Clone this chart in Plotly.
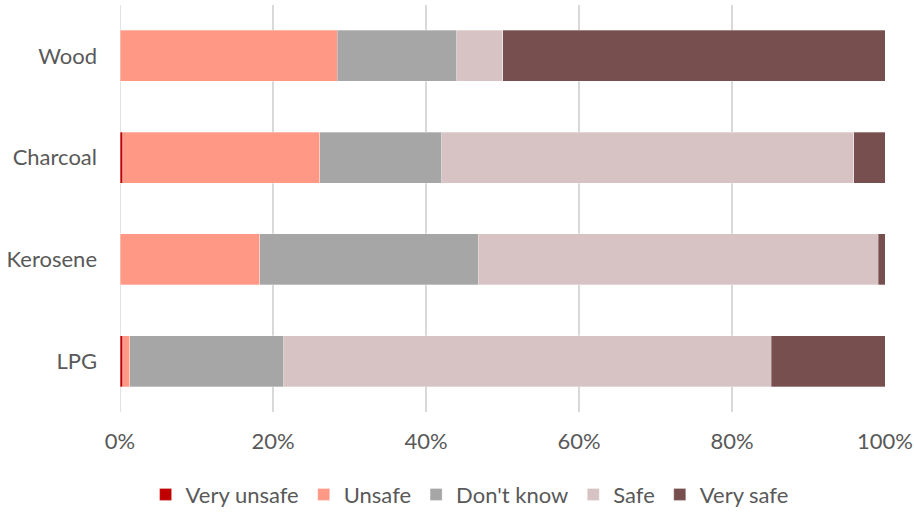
import plotly.graph_objects as go

# Perceived safety of cooking fuels (share of respondents, %)
fuels = ["Wood", "Charcoal", "Kerosene", "LPG"]
very_unsafe = [0.0, 0.35, 0.0, 0.35]
unsafe = [28.4, 25.75, 18.25, 0.95]
dont_know = [15.6, 15.95, 28.55, 20.1]
safe = [6.0, 53.85, 52.3, 63.7]
very_safe = [50.0, 4.1, 0.9, 14.9]

series = [
    ("Very unsafe", very_unsafe, "#C00000"),
    ("Unsafe", unsafe, "#FF9986"),
    ("Don't know", dont_know, "#A6A6A6"),
    ("Safe", safe, "#D8C3C4"),
    ("Very safe", very_safe, "#774F4F"),
]

font_family = "Lato, Open Sans, sans-serif"

fig = go.Figure()
for name, values, color in series:
    fig.add_trace(go.Bar(
        name=name,
        y=fuels,
        x=values,
        orientation="h",
        marker=dict(color=color, line=dict(color="rgba(255,255,255,0.5)", width=0.6)),
    ))

fig.update_layout(
    barmode="stack",
    bargap=0.5,
    width=914,
    height=512,
    margin=dict(l=120, r=29, t=5, b=100, autoexpand=False),
    plot_bgcolor="white",
    paper_bgcolor="white",
    font=dict(family=font_family, size=22, color="#595959"),
    xaxis=dict(
        range=[0, 100],
        tickvals=[0, 20, 40, 60, 80, 100],
        ticktext=["0%", "20%", "40%", "60%", "80%", "100%"],
        showgrid=True,
        gridcolor="#D9D9D9",
        gridwidth=1.5,
        zeroline=False,
        showline=False,
        ticks="",
        ticklabelstandoff=14,
        automargin=False,
    ),
    yaxis=dict(
        categoryorder="array",
        categoryarray=fuels[::-1],
        showgrid=False,
        zeroline=False,
        showline=False,
        ticks="",
        ticklabelstandoff=22,
        automargin=False,
    ),
    legend=dict(
        orientation="h",
        x=0.457,
        xanchor="center",
        yref="container",
        y=0.034,
        yanchor="middle",
        traceorder="normal",
        font=dict(family=font_family, size=22, color="#595959"),
        itemwidth=30,
    ),
)

# Vertical axis line at 0%
fig.add_shape(type="line", xref="x", yref="paper", x0=0, x1=0, y0=0, y1=1,
              line=dict(color="#D9D9D9", width=1.5), layer="below")

fig.write_html("out.html")
